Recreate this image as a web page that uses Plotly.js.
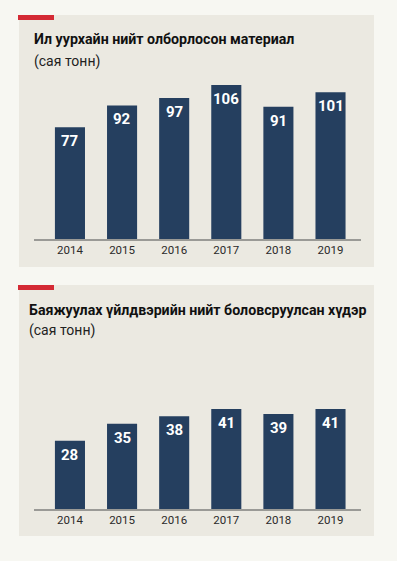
<!DOCTYPE html>
<html>
<head>
<meta charset="utf-8">
<script src="https://cdn.plot.ly/plotly-3.0.1.min.js"></script>
<style>
html,body{margin:0;padding:0;background:#f7f7f2;}
#chart{width:397px;height:561px;}
</style>
</head>
<body>
<div id="chart"></div>
<script>
// ---- data ----
const years = ["2014", "2015", "2016", "2017", "2018", "2019"];
const minedMaterial = [77, 92, 97, 106, 91, 101];
const processedOre = [28, 35, 38, 41, 39, 41];
const title1 = "Ил уурхайн нийт олборлосон материал";
const title2 = "Баяжуулах үйлдвэрийн нийт боловсруулсан хүдэр";
const unitLabel = "(сая тонн)";

// ---- styling ----
const W = 397, H = 561;
const BAR = "#253f5f", RED = "#d42a35", PANEL = "#ebe9e1", PAGE = "#f7f7f2";
const FONT = "Roboto, 'Noto Sans', sans-serif";
const px = v => v / W;
const py = v => 1 - v / H;

function barTrace(vals, xa, ya) {
  return {
    type: "bar", x: years, y: vals, xaxis: xa, yaxis: ya,
    marker: {color: BAR, line: {width: 0}},
    hoverinfo: "none", showlegend: false
  };
}
function valueLabels(vals, xa, ya) {
  return vals.map((v, i) => ({
    xref: xa, yref: ya, x: i, y: v, text: String(v),
    showarrow: false, yanchor: "top", xanchor: "center", yshift: -3,
    font: {family: FONT, size: 15, color: "#ffffff", weight: 700}
  }));
}

const xRange = [-0.69, 5.585];
const axisCommon = {
  type: "category", range: xRange, showline: true, linecolor: "#9a9a96", linewidth: 1.5,
  showgrid: false, zeroline: false, ticks: "", ticklen: 0,
  tickfont: {family: FONT, size: 11.5, color: "#2a2a2a"}, fixedrange: true
};
const yCommon = {showgrid: false, zeroline: false, showticklabels: false, showline: false, fixedrange: true};

const layout = {
  width: W, height: H,
  margin: {l: 0, r: 0, t: 0, b: 0},
  paper_bgcolor: PAGE, plot_bgcolor: "rgba(0,0,0,0)",
  bargap: 0.423,
  xaxis: Object.assign({}, axisCommon, {domain: [px(34), px(361)], anchor: "y"}),
  yaxis: Object.assign({}, yCommon, {domain: [py(239), py(65)], range: [0, 119.8], anchor: "x"}),
  xaxis2: Object.assign({}, axisCommon, {domain: [px(34), px(361)], anchor: "y2"}),
  yaxis2: Object.assign({}, yCommon, {domain: [py(509), py(380)], range: [0, 52.9], anchor: "x2"}),
  shapes: [
    {type: "rect", xref: "paper", yref: "paper", x0: px(19), x1: px(374), y0: py(267), y1: py(15), fillcolor: PANEL, line: {width: 0}, layer: "below"},
    {type: "rect", xref: "paper", yref: "paper", x0: px(18), x1: px(54), y0: py(20), y1: py(15), fillcolor: RED, line: {width: 0}, layer: "below"},
    {type: "rect", xref: "paper", yref: "paper", x0: px(19), x1: px(374), y0: py(536), y1: py(285), fillcolor: PANEL, line: {width: 0}, layer: "below"},
    {type: "rect", xref: "paper", yref: "paper", x0: px(18), x1: px(54), y0: py(290), y1: py(285), fillcolor: RED, line: {width: 0}, layer: "below"}
  ],
  annotations: [
    {xref: "paper", yref: "paper", x: px(32), y: py(39), xanchor: "left", yanchor: "middle", showarrow: false,
     text: title1, font: {family: FONT, size: 14.2, color: "#111111", weight: 700}},
    {xref: "paper", yref: "paper", x: px(32), y: py(62), xanchor: "left", yanchor: "middle", showarrow: false,
     text: unitLabel, font: {family: FONT, size: 14, color: "#222222"}},
    {xref: "paper", yref: "paper", x: px(27), y: py(310), xanchor: "left", yanchor: "middle", showarrow: false,
     text: title2, font: {family: FONT, size: 14.2, color: "#111111", weight: 700}},
    {xref: "paper", yref: "paper", x: px(27), y: py(330), xanchor: "left", yanchor: "middle", showarrow: false,
     text: unitLabel, font: {family: FONT, size: 14, color: "#222222"}}
  ].concat(valueLabels(minedMaterial, "x", "y"), valueLabels(processedOre, "x2", "y2"))
};

Plotly.newPlot("chart", [barTrace(minedMaterial, "x", "y"), barTrace(processedOre, "x2", "y2")], layout,
  {displayModeBar: false, staticPlot: true});
</script>
</body>
</html>
